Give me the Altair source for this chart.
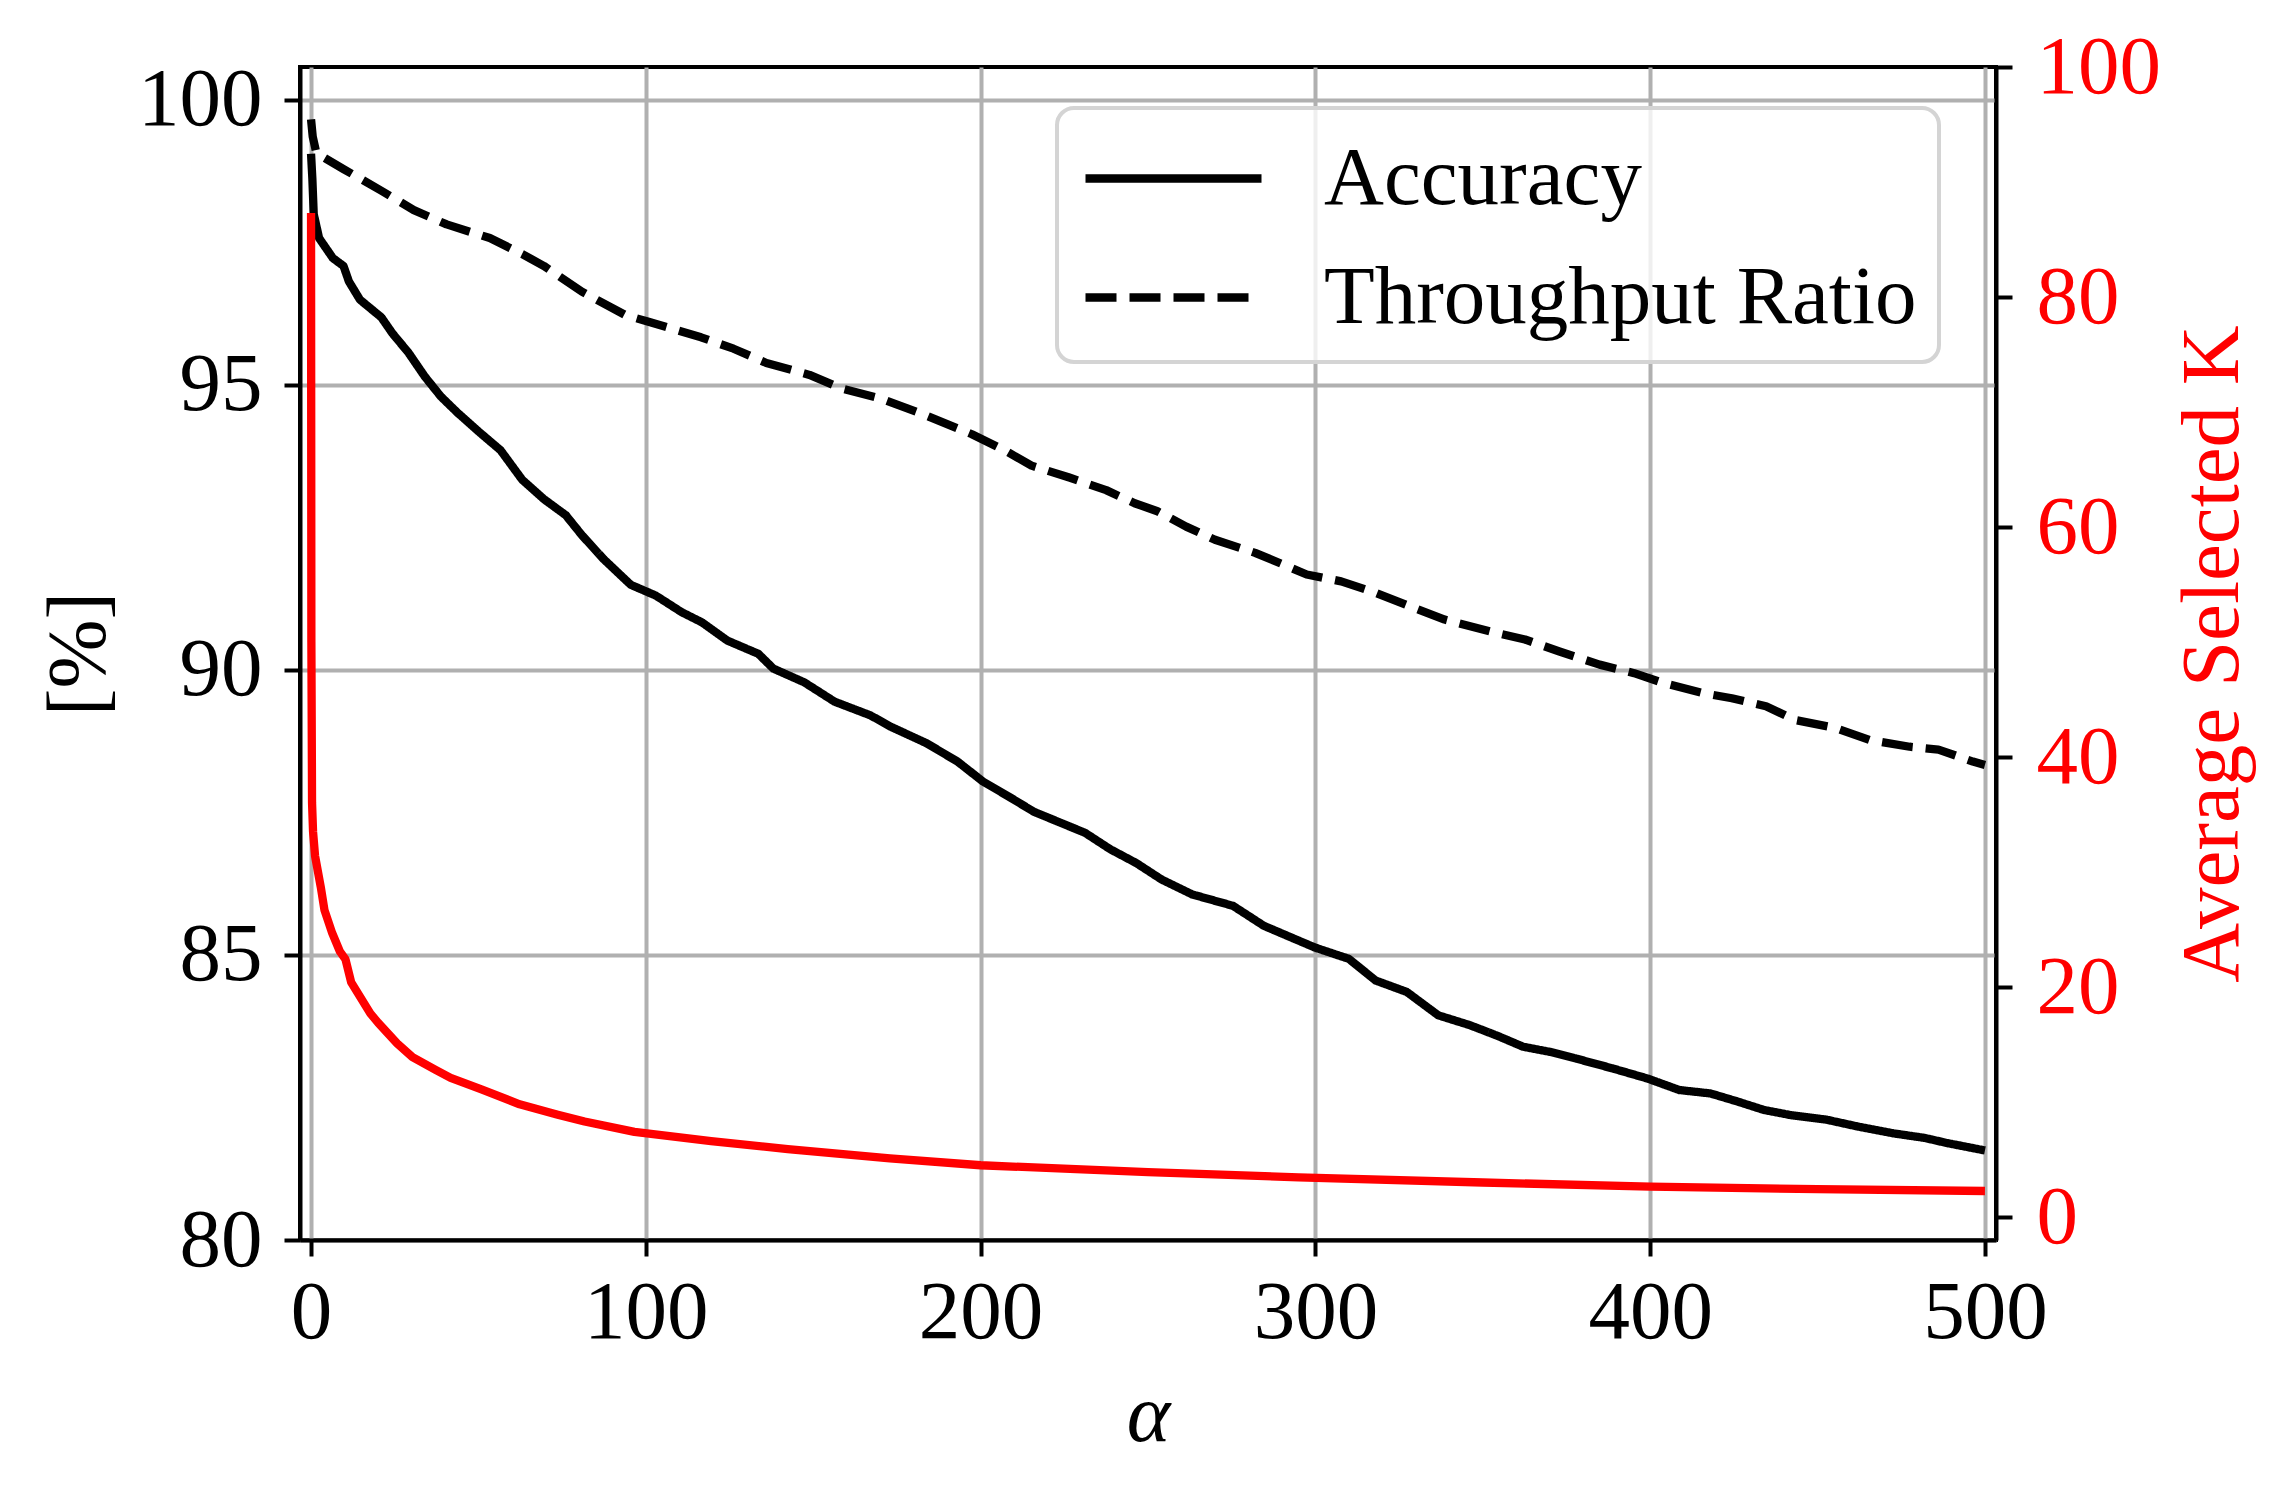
import altair as alt
import pandas as pd

# ---------------- data ----------------
acc_alpha = [0, 0.4, 0.8, 2.4, 6.5, 9.7, 11.3, 14.6, 21, 24.3, 29.1, 34, 38.8, 43.7, 50.2,
             56.6, 63.1, 69.6, 76.1, 80.9, 87.4, 95.5, 103, 110.7, 116.8, 124.4, 133.6,
             138.1, 147.3, 156.4, 167.1, 173.2, 183.9, 193.1, 200.7, 208.3, 215.9, 231.2,
             238.8, 246.5, 254.1, 263.2, 275.4, 284.6, 299.8, 310, 318, 327.3, 336.7, 346,
             354, 362, 370, 378, 388.7, 399.3, 408.7, 418, 426, 434, 442, 452.7, 462,
             472.7, 482, 488.7, 500]
acc_value = [99.05, 98.6, 97.99, 97.57, 97.22, 97.08, 96.81, 96.49, 96.18, 95.90, 95.56,
             95.14, 94.79, 94.51, 94.17, 93.85, 93.33, 92.99, 92.71, 92.36, 91.94, 91.49,
             91.30, 91.01, 90.83, 90.51, 90.28, 90.02, 89.78, 89.44, 89.20, 89.00, 88.71,
             88.39, 88.04, 87.78, 87.51, 87.14, 86.85, 86.61, 86.32, 86.06, 85.86, 85.51,
             85.13, 84.93, 84.55, 84.35, 83.94, 83.77, 83.59, 83.39, 83.30, 83.18, 83.01,
             82.83, 82.63, 82.57, 82.43, 82.28, 82.19, 82.11, 81.99, 81.87, 81.79, 81.70,
             81.57]

thr_alpha = [0, 0.5, 1.6, 9.7, 21, 30.7, 40.5, 53.4, 63.1, 69.6, 80.9, 93.9, 100.3, 116.5,
             126.2, 136, 148.9, 158.6, 169.9, 182.8, 197.4, 207.1, 215.2, 226.5, 237.5, 246,
             252.8, 261.4, 270, 282, 290.6, 297.4, 307.7, 318, 328.3, 338.6, 352.3, 362.6,
             372.9, 384.9, 395.2, 403.8, 415.8, 424.4, 434.6, 443.2, 455.2, 465.5, 477.5,
             486.1, 496.4, 500]
thr_value = [99.65, 99.35, 99.06, 98.78, 98.40, 98.06, 97.81, 97.57, 97.29, 97.08, 96.63,
             96.22, 96.11, 95.83, 95.63, 95.38, 95.17, 94.93, 94.76, 94.48, 94.13, 93.85,
             93.58, 93.37, 93.15, 92.92, 92.78, 92.51, 92.28, 92.05, 91.84, 91.67, 91.55,
             91.35, 91.11, 90.88, 90.67, 90.53, 90.32, 90.09, 89.94, 89.77, 89.59, 89.50,
             89.36, 89.12, 88.98, 88.77, 88.65, 88.60, 88.39, 88.33]

k_alpha = [0, 0.1, 0.3, 0.6, 1.2, 2.9, 4.0, 6.3, 8.6, 10.3, 12.0, 17.7, 20.0, 25.7, 30.3,
           37.2, 41.7, 50.9, 62.3, 73.7, 81.7, 96.6, 119.5, 142.4, 172.9, 200, 250, 295,
           350, 400, 450, 500]
k_value = [87.3, 50, 36, 33.5, 31.4, 28.7, 26.7, 24.7, 23.1, 22.4, 20.4, 17.7, 16.9, 15.1,
           13.9, 12.8, 12.1, 11.1, 9.8, 8.9, 8.3, 7.4, 6.6, 5.9, 5.1, 4.5, 3.9, 3.45,
           3.0, 2.64, 2.42, 2.26]

series_names = ["Accuracy", "Throughput Ratio"]
x_ticks = [0, 100, 200, 300, 400, 500]
left_ticks = [80, 85, 90, 95, 100]
right_ticks = [0, 20, 40, 60, 80, 100]

# ---------------- tables ----------------
black_df = pd.concat([
    pd.DataFrame({"alpha": acc_alpha, "value": acc_value, "series": series_names[0], "order": range(len(acc_alpha))}),
    pd.DataFrame({"alpha": thr_alpha, "value": thr_value, "series": series_names[1], "order": range(len(thr_alpha))}),
], ignore_index=True)
red_df = pd.DataFrame({"alpha": k_alpha, "k": k_value, "order": range(len(k_alpha))})

FONT = "Liberation Serif"
FS = 83
W, H = 1696, 1173

x_scale = alt.Scale(domain=[-3.3, 503.3], nice=False, zero=False)
x_axis = alt.Axis(
    values=x_ticks, format="d", title="α", grid=True, gridColor="#b0b0b0", gridWidth=4,
    domainColor="black", domainWidth=4, tickColor="black", tickWidth=4, tickSize=16,
    labelPadding=15, labelFont=FONT, labelFontSize=FS, labelColor="black",
    labelFlush=False, labelOverlap=False, labelBound=False,
    titleFont=FONT, titleFontSize=FS, titleFontStyle="italic", titleFontWeight="normal",
    titleColor="black", titleX=W / 2, titleY=200, titleBaseline="alphabetic", titleAlign="center",
)

left_axis = alt.Axis(
    values=left_ticks, format="d", title="[%]", grid=True, gridColor="#b0b0b0", gridWidth=4,
    domainColor="black", domainWidth=4, tickColor="black", tickWidth=4, tickSize=16,
    labelPadding=22, labelFont=FONT, labelFontSize=FS, labelColor="black",
    labelFlush=False, labelOverlap=False, labelBound=False,
    titleFont=FONT, titleFontSize=FS, titleFontWeight="normal", titleColor="black",
    titleAngle=270, titleX=-197, titleY=H / 2, titleBaseline="alphabetic", titleAlign="center",
)

right_axis = alt.Axis(
    orient="right", values=right_ticks, format="d", title="Average Selected K", grid=False,
    domainColor="black", domainWidth=4, tickColor="black", tickWidth=4, tickSize=16,
    labelPadding=24, labelFont=FONT, labelFontSize=FS, labelColor="#ff0000",
    labelFlush=False, labelOverlap=False, labelBound=False,
    titleFont=FONT, titleFontSize=FS, titleFontWeight="normal", titleColor="#ff0000",
    titleAngle=270, titleX=241, titleY=H / 2, titleBaseline="alphabetic", titleAlign="center",
)

# long thin custom stroke symbol: path spans 2*sqrt(size) horizontally
legend = alt.Legend(
    title=None, orient="none", legendX=757, legendY=41,
    fillColor="rgba(255,255,255,0.8)", strokeColor="#d4d4d4",
    cornerRadius=17, padding=22,
    symbolType="M-2,0H2", symbolSize=7744, symbolStrokeWidth=8.3, symbolOffset=46,
    symbolStrokeColor="black", symbolFillColor="transparent",
    labelFont=FONT, labelFontSize=FS, labelColor="black",
    labelOffset=102, rowPadding=28, labelLimit=0,
)

black_lines = alt.Chart(black_df).mark_line(
    color="black", strokeWidth=8.3, strokeCap="butt", strokeJoin="round", clip=True
).encode(
    x=alt.X("alpha:Q", scale=x_scale, axis=x_axis),
    y=alt.Y("value:Q", scale=alt.Scale(domain=[80, 100.57], nice=False, zero=False), axis=left_axis),
    strokeDash=alt.StrokeDash(
        "series:N",
        scale=alt.Scale(domain=series_names, range=[[1, 0], [31, 13]]),
        legend=legend,
    ),
    order="order:Q",
)

red_line = alt.Chart(red_df).mark_line(
    color="#ff0000", strokeWidth=8.3, strokeCap="butt", strokeJoin="round", clip=True
).encode(
    x=alt.X("alpha:Q", scale=x_scale, axis=x_axis),
    y=alt.Y("k:Q", scale=alt.Scale(domain=[-2, 100], nice=False, zero=False), axis=right_axis),
    order="order:Q",
)

chart = (
    alt.layer(black_lines, red_line)
    .resolve_scale(y="independent")
    .properties(
        width=W, height=H,
        autosize=alt.AutoSizeParams(type="none"),
        padding={"left": 292, "top": 59, "right": 280, "bottom": 230},
        background="white",
    )
    .configure(font=FONT)
    .configure_view(stroke="black", strokeWidth=4)
    .configure_legend(strokeWidth=4)
)

chart.save("out.html", embed_options={"renderer": "svg", "actions": False})
